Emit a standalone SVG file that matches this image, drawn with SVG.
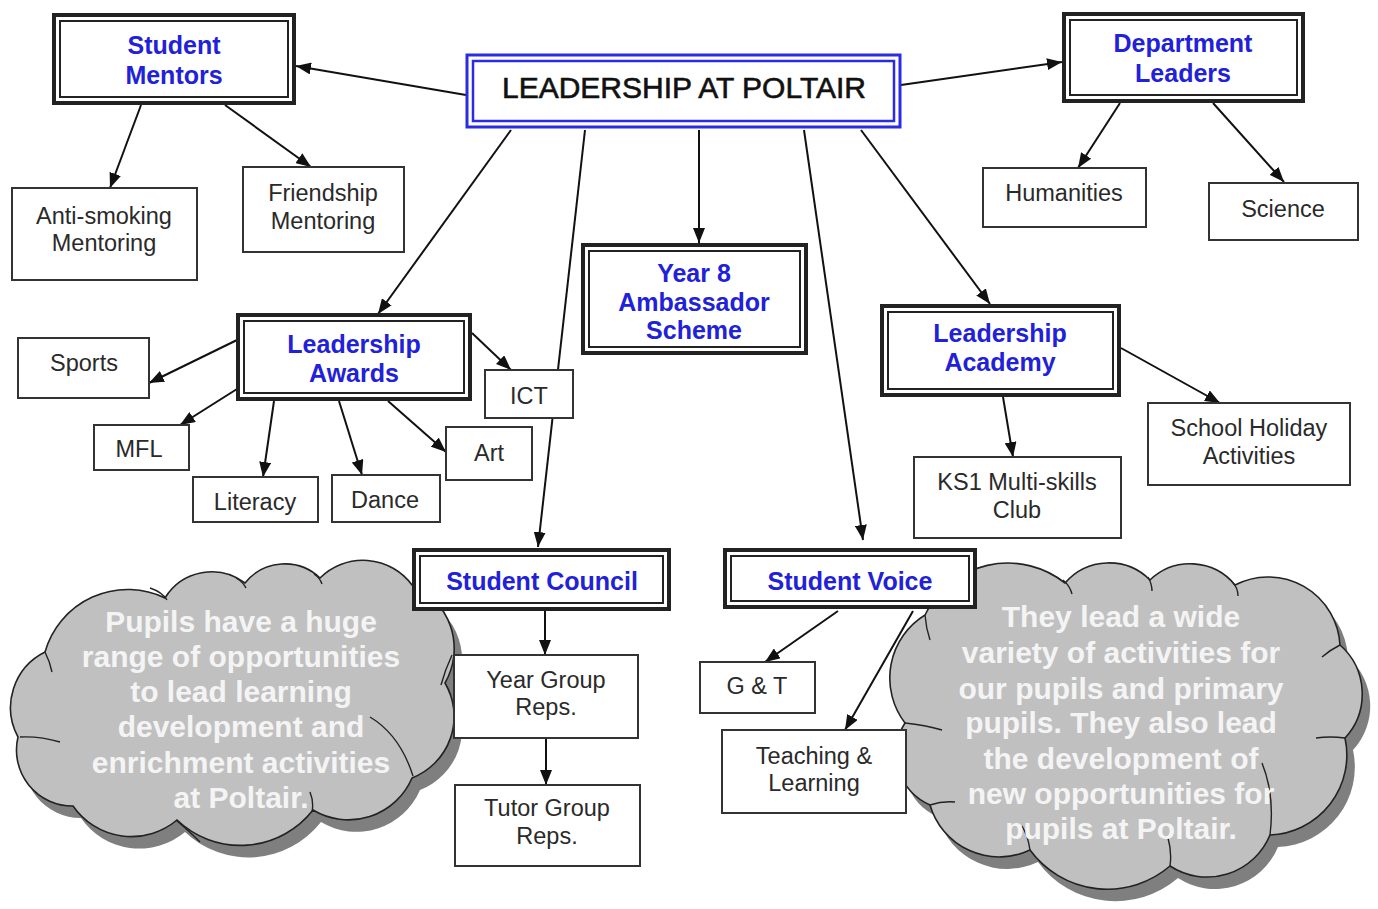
<svg xmlns="http://www.w3.org/2000/svg" width="1378" height="909" viewBox="0 0 1378 909">
<style>
.box{fill:#fff;stroke:#333;stroke-width:2}
.dbo{fill:#fff;stroke:#222;stroke-width:4}
.dbi{fill:none;stroke:#222;stroke-width:2}
.lbl{font-family:"Liberation Sans",Arial,sans-serif;font-size:23.5px;fill:#2a2a2a;text-anchor:middle}
.blue{font-family:"Liberation Sans",Arial,sans-serif;font-size:25px;font-weight:bold;fill:#2121d9;text-anchor:middle}
.ctxt{font-family:"Liberation Sans",Arial,sans-serif;font-size:30px;font-weight:bold;fill:#f4f4f4;text-anchor:middle}
.conn line{stroke:#111;stroke-width:2;marker-end:url(#ah)}
.cloud{fill:#c0c0c0;stroke:#222;stroke-width:1.6}
.shadow{fill:#7f7f7f}
.inner{fill:none;stroke:#222;stroke-width:1.4}
</style>
<defs>
<marker id="ah" markerUnits="userSpaceOnUse" markerWidth="15" markerHeight="12" refX="15" refY="6" orient="auto">
<path d="M0,0 L15,6 L0,12 z" fill="#111"/>
</marker>
<path id="lcloud" d="M45,652 A86,86 0 0 1 165,598 A55,55 0 0 1 245,583 A51,51 0 0 1 320,578 A61,61 0 0 1 412,585 A69,69 0 0 1 445,683 A66,66 0 0 1 412,778 A69,69 0 0 1 313,810 A92,92 0 0 1 177,820 A71,71 0 0 1 73,806 A56,56 0 0 1 18,737 A62,62 0 0 1 45,652 Z"/>
<path id="rcloud" d="M925,615 A92,92 0 0 1 1065,583 A58,58 0 0 1 1150,580 A58,58 0 0 1 1235,585 A72,72 0 0 1 1340,645 A65,65 0 0 1 1345,738 A80,80 0 0 1 1270,835 A68,68 0 0 1 1170,866 A96,96 0 0 1 1030,850 A72,72 0 0 1 930,805 A56,56 0 0 1 905,723 A74,74 0 0 1 925,615 Z"/>
</defs>
<rect width="1378" height="909" fill="#fff"/>

<g id="cloud-left">
<use href="#lcloud" class="shadow" transform="translate(8,12)"/>
<use href="#lcloud" class="cloud"/>
<path class="inner" d="M150,588 Q162,592 167,600 M236,578 Q243,582 246,588 M314,574 Q320,578 322,584 M452,655 Q445,670 441,685 M370,717 Q400,735 413,776 M310,792 Q314,802 312,812 M176,820 Q190,832 200,842 M20,737 Q40,736 60,742 M45,652 Q50,662 52,672"/>
<text class="ctxt" x="241" y="632">Pupils have a huge</text>
<text class="ctxt" x="241" y="667">range of opportunities</text>
<text class="ctxt" x="241" y="702">to lead learning</text>
<text class="ctxt" x="241" y="737">development and</text>
<text class="ctxt" x="241" y="773">enrichment activities</text>
<text class="ctxt" x="241" y="808">at Poltair.</text>
</g>

<g id="cloud-right">
<use href="#rcloud" class="shadow" transform="translate(8,12)"/>
<use href="#rcloud" class="cloud"/>
<path class="inner" d="M925,615 Q926,628 930,640 M1063,580 Q1070,586 1072,594 M1148,577 Q1152,584 1152,591 M1233,583 Q1238,588 1238,596 M1340,645 Q1330,650 1322,657 M1345,738 Q1330,736 1316,738 M1262,763 Q1275,795 1270,835 M1170,866 Q1172,852 1168,838 M1030,850 Q1028,836 1022,826 M930,805 Q942,801 955,802 M905,723 Q925,725 942,730"/>
<text class="ctxt" x="1121" y="627">They lead a wide</text>
<text class="ctxt" x="1121" y="663">variety of activities for</text>
<text class="ctxt" x="1121" y="699">our pupils and primary</text>
<text class="ctxt" x="1121" y="733">pupils. They also lead</text>
<text class="ctxt" x="1121" y="769">the development of</text>
<text class="ctxt" x="1121" y="804">new opportunities for</text>
<text class="ctxt" x="1121" y="839">pupils at Poltair.</text>
</g>

<g id="connectors" class="conn">
<line x1="466" y1="95" x2="296" y2="66"/>
<line x1="901" y1="85" x2="1062" y2="62"/>
<line x1="141" y1="105" x2="110" y2="188"/>
<line x1="225" y1="105" x2="311" y2="167"/>
<line x1="1120" y1="103" x2="1078" y2="168"/>
<line x1="1213" y1="103" x2="1284" y2="182"/>
<line x1="511" y1="130" x2="378" y2="314"/>
<line x1="585" y1="130" x2="538" y2="547"/>
<line x1="699" y1="130" x2="699" y2="243"/>
<line x1="804" y1="130" x2="863" y2="540"/>
<line x1="861" y1="130" x2="990" y2="304"/>
<line x1="237" y1="340" x2="149" y2="383"/>
<line x1="237" y1="389" x2="180" y2="425"/>
<line x1="274" y1="401" x2="263" y2="477"/>
<line x1="339" y1="401" x2="362" y2="475"/>
<line x1="388" y1="401" x2="446" y2="452"/>
<line x1="472" y1="333" x2="511" y2="370"/>
<line x1="1121" y1="348" x2="1220" y2="403"/>
<line x1="1003" y1="397" x2="1013" y2="457"/>
<line x1="545" y1="611" x2="545" y2="655"/>
<line x1="546" y1="738" x2="546" y2="785"/>
<line x1="838" y1="611" x2="765" y2="662"/>
<line x1="913" y1="611" x2="845" y2="730"/>
</g>

<g id="main">
<rect x="467" y="55" width="433" height="72" fill="#fff" stroke="#2b2be3" stroke-width="3"/>
<rect x="473" y="61" width="421" height="60" fill="none" stroke="#2b2be3" stroke-width="2.5"/>
<text x="684" y="98" font-family="'Liberation Sans',Arial,sans-serif" font-size="30" fill="#111" stroke="#111" stroke-width="0.6" text-anchor="middle">LEADERSHIP AT POLTAIR</text>
</g>

<g id="student-mentors">
<rect class="dbo" x="54" y="15" width="240" height="88"/>
<rect class="dbi" x="60" y="21" width="228" height="76"/>
<text class="blue" x="174" y="54">Student</text>
<text class="blue" x="174" y="84">Mentors</text>
</g>

<g id="department-leaders">
<rect class="dbo" x="1064" y="14" width="239" height="87"/>
<rect class="dbi" x="1070" y="20" width="227" height="75"/>
<text class="blue" x="1183" y="52">Department</text>
<text class="blue" x="1183" y="82">Leaders</text>
</g>

<g id="anti-smoking">
<rect class="box" x="12" y="188" width="185" height="92"/>
<text class="lbl" x="104" y="224">Anti-smoking</text>
<text class="lbl" x="104" y="251">Mentoring</text>
</g>

<g id="friendship">
<rect class="box" x="243" y="167" width="161" height="85"/>
<text class="lbl" x="323" y="201">Friendship</text>
<text class="lbl" x="323" y="229">Mentoring</text>
</g>

<g id="humanities">
<rect class="box" x="983" y="168" width="163" height="59"/>
<text class="lbl" x="1064" y="201">Humanities</text>
</g>

<g id="science">
<rect class="box" x="1209" y="183" width="149" height="57"/>
<text class="lbl" x="1283" y="217">Science</text>
</g>

<g id="year8">
<rect class="dbo" x="583" y="245" width="223" height="108"/>
<rect class="dbi" x="589" y="251" width="211" height="96"/>
<text class="blue" x="694" y="282">Year 8</text>
<text class="blue" x="694" y="311">Ambassador</text>
<text class="blue" x="694" y="339">Scheme</text>
</g>

<g id="leadership-awards">
<rect class="dbo" x="238" y="315" width="232" height="84"/>
<rect class="dbi" x="244" y="321" width="220" height="72"/>
<text class="blue" x="354" y="353">Leadership</text>
<text class="blue" x="354" y="382">Awards</text>
</g>

<g id="leadership-academy">
<rect class="dbo" x="882" y="306" width="237" height="89"/>
<rect class="dbi" x="888" y="312" width="225" height="77"/>
<text class="blue" x="1000" y="342">Leadership</text>
<text class="blue" x="1000" y="371">Academy</text>
</g>

<g id="sports">
<rect class="box" x="18" y="338" width="131" height="60"/>
<text class="lbl" x="84" y="371">Sports</text>
</g>

<g id="mfl">
<rect class="box" x="94" y="425" width="95" height="45"/>
<text class="lbl" x="139" y="457">MFL</text>
</g>

<g id="literacy">
<rect class="box" x="193" y="477" width="125" height="45"/>
<text class="lbl" x="255" y="510">Literacy</text>
</g>

<g id="dance">
<rect class="box" x="332" y="475" width="108" height="47"/>
<text class="lbl" x="385" y="508">Dance</text>
</g>

<g id="art">
<rect class="box" x="446" y="427" width="86" height="53"/>
<text class="lbl" x="489" y="461">Art</text>
</g>

<g id="ict">
<rect class="box" x="485" y="370" width="88" height="48"/>
<text class="lbl" x="529" y="404">ICT</text>
</g>

<g id="school-holiday">
<rect class="box" x="1148" y="403" width="202" height="82"/>
<text class="lbl" x="1249" y="436">School Holiday</text>
<text class="lbl" x="1249" y="464">Activities</text>
</g>

<g id="ks1">
<rect class="box" x="914" y="457" width="207" height="81"/>
<text class="lbl" x="1017" y="490">KS1 Multi-skills</text>
<text class="lbl" x="1017" y="518">Club</text>
</g>

<g id="student-council">
<rect class="dbo" x="414" y="550" width="255" height="59"/>
<rect class="dbi" x="420" y="556" width="243" height="47"/>
<text class="blue" x="542" y="590">Student Council</text>
</g>

<g id="student-voice">
<rect class="dbo" x="725" y="550" width="250" height="57"/>
<rect class="dbi" x="731" y="556" width="238" height="45"/>
<text class="blue" x="850" y="590">Student Voice</text>
</g>

<g id="year-group">
<rect class="box" x="454" y="655" width="184" height="83"/>
<text class="lbl" x="546" y="688">Year Group</text>
<text class="lbl" x="546" y="715">Reps.</text>
</g>

<g id="tutor-group">
<rect class="box" x="455" y="785" width="185" height="81"/>
<text class="lbl" x="547" y="816">Tutor Group</text>
<text class="lbl" x="547" y="844">Reps.</text>
</g>

<g id="gt">
<rect class="box" x="700" y="662" width="115" height="51"/>
<text class="lbl" x="757" y="694">G &amp; T</text>
</g>

<g id="teaching">
<rect class="box" x="722" y="730" width="184" height="83"/>
<text class="lbl" x="814" y="764">Teaching &amp;</text>
<text class="lbl" x="814" y="791">Learning</text>
</g>
</svg>
